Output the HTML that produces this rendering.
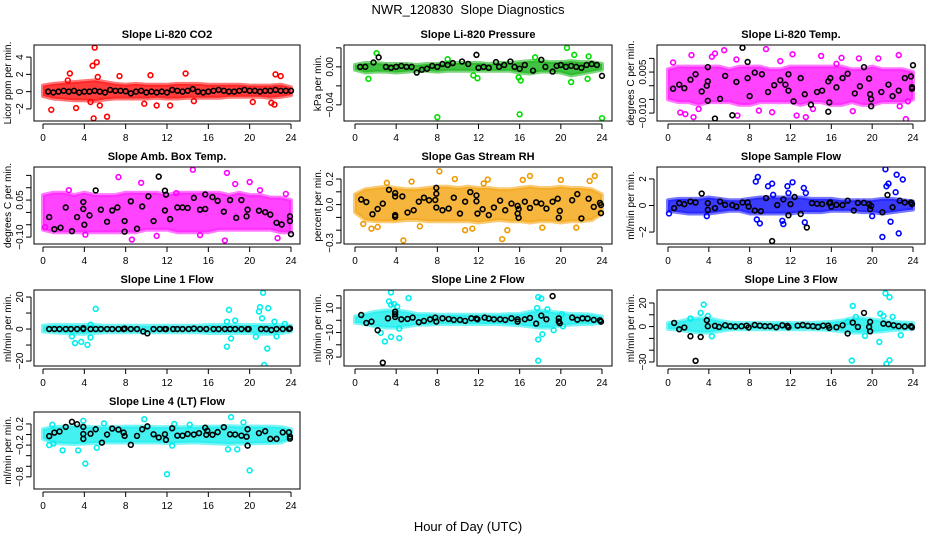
<!DOCTYPE html>
<html><head><meta charset="utf-8"><style>
html,body{margin:0;padding:0;background:#fff;}
svg{display:block;font-family:"Liberation Sans",Arial,sans-serif;}
</style></head><body>
<svg id="chart" width="936" height="540" viewBox="0 0 936 540" xmlns="http://www.w3.org/2000/svg">
<rect width="936" height="540" fill="#fff"/>
<text x="468" y="14" font-size="13" text-anchor="middle">NWR_120830&#160; Slope Diagnostics</text>
<text x="468" y="531" font-size="13" text-anchor="middle">Hour of Day (UTC)</text>
</svg>
<script>
const bandHours=[0,1,2,3,4,5,6,7,8,9,10,11,12,13,14,15,16,17,18,19,20,21,22,23,24];
const xTicks=[0,4,8,12,16,20,24];

// CO2
const co2Hi=[0.7,0.9,1.0,1.1,1.2,1.3,1.1,0.9,0.8,0.9,0.8,0.8,0.8,0.9,0.9,0.9,0.8,0.8,0.8,0.8,0.7,0.7,0.7,0.8,0.5];
const co2Lo=[-0.5,-0.8,-0.9,-1.0,-1.0,-1.1,-0.9,-0.8,-0.8,-0.8,-0.8,-0.7,-0.8,-0.8,-0.7,-0.7,-0.7,-0.7,-0.6,-0.6,-0.6,-0.6,-0.7,-0.6,-0.4];
const co2Out=[[0.8,-2.1],[2.6,2.1],[3.2,-1.9],[4.8,3.0],[4.9,-3.1],[5.0,5.1],[5.2,3.4],[5.3,1.7],[5.5,-1.6],[6.2,-2.9],[7.4,1.8],[9.8,-1.4],[10.4,1.9],[11.0,-1.6],[12.3,-1.6],[13.8,2.1],[14.6,-1.1],[20.3,-1.2],[22.1,-1.3],[22.4,-1.5],[22.5,2.0],[23.0,1.8],[4.6,-1.2],[2.4,1.3]];
const co2Blk=[[0.5,0],[1,-0.1],[1.5,0],[2,0.1],[2.5,0],[3,0.1],[3.5,-0.1],[4,0],[4.5,0],[5,0.1],[5.5,0],[6,-0.1],[6.5,0.2],[7,0.1],[7.5,0.1],[8,0.05],[8.5,-0.2],[9,0],[9.5,0.1],[10,-0.1],[10.5,0],[11,-0.1],[11.5,0],[12,-0.1],[12.5,0.2],[13,0.1],[13.5,0],[14,0.1],[14.5,0.3],[15,0],[15.5,-0.1],[16,0],[16.5,0.1],[17,0.2],[17.5,0.1],[18,0],[18.5,0],[19,0.1],[19.5,0.2],[20,0.1],[20.5,0.1],[21,0],[21.5,0.1],[22,0.1],[22.5,0.2],[23,0.1],[23.5,0.1],[24,0.1]];

// Pressure
const prsHi=[0.002,0.004,0.004,0.003,0.003,0.003,0.002,0.003,0.003,0.004,0.004,0.004,0.004,0.003,0.004,0.004,0.005,0.006,0.006,0.005,0.005,0.006,0.005,0.005,0.003];
const prsLo=[-0.003,-0.006,-0.005,-0.005,-0.006,-0.005,-0.004,-0.004,-0.005,-0.004,-0.004,-0.004,-0.004,-0.004,-0.004,-0.004,-0.006,-0.007,-0.005,-0.005,-0.006,-0.009,-0.007,-0.005,-0.003];
const prsOut=[[8,-0.053],[16,-0.05],[24,-0.054],[2.1,0.0144],[20.6,0.02],[21.3,0.0126],[1.3,-0.0126],[11.9,-0.012],[15.9,-0.011],[16.1,-0.0144],[22.6,-0.0126],[9.0,0.008],[21.0,-0.016],[17.5,0.01],[22.7,0.011],[11.5,-0.009]];
const prsBlk=[[0.5,0],[1,0],[1.8,0.0046],[2.3,0.01],[3,0],[3.5,-0.001],[4,0],[4.5,0.001],[5,0],[5.5,0],[6,-0.006],[6.5,-0.003],[7,-0.002],[7.5,0.001],[8,0],[8.5,0.003],[9,0.002],[9.5,0.004],[10.4,0.0056],[11,0.003],[11.8,0.0126],[12,-0.001],[12.5,0],[13,-0.001],[13.7,0.005],[14,0],[14.5,0.002],[15.1,0.0056],[15.5,0],[16,-0.002],[16.5,0.002],[17.3,-0.004],[18.1,0.0074],[18.5,0],[19.2,-0.005],[19.6,0.001],[20,0.002],[20.5,0],[21,0.001],[21.5,0],[22,-0.001],[22.5,0.002],[23,0.003],[23.5,0.002],[24,-0.0095]];

// Li-820 Temp
const tmpHi=[0.006,0.007,0.007,0.007,0.007,0.007,0.006,0.007,0.007,0.007,0.006,0.006,0.007,0.007,0.007,0.007,0.007,0.007,0.006,0.006,0.007,0.006,0.006,0.006,0.005];
const tmpLo=[-0.005,-0.006,-0.006,-0.007,-0.006,-0.006,-0.006,-0.007,-0.007,-0.006,-0.006,-0.006,-0.006,-0.007,-0.006,-0.006,-0.007,-0.007,-0.006,-0.007,-0.007,-0.006,-0.006,-0.006,-0.005];
const tmpOut=[[0.5,0.0085],[1.2,-0.0098],[1.7,-0.0104],[2.3,0.0112],[2.5,-0.0115],[4.3,0.0106],[4.6,0.0118],[5.5,0.013],[6.7,0.0096],[6.8,-0.0109],[8.9,-0.0091],[9.6,0.0134],[10.2,-0.0097],[12.2,0.0115],[12.6,-0.0109],[13.5,-0.0115],[15.0,0.0109],[16.5,0.008],[17.0,0.0102],[18.1,-0.0093],[18.7,0.01],[20.6,0.01],[22.6,0.0112],[22.7,-0.0075],[23.3,-0.0122],[23.5,-0.0057],[3.0,-0.0085],[11.0,0.009],[14.2,-0.0085]];
const tmpBlk=[[0.5,-0.0011],[1.1,0.0004],[1.6,-0.0009],[2.2,0.0022],[2.7,0.0042],[3.3,-0.0021],[3.9,0.0016],[3.9,0.0068],[3.9,-0.0055],[3.8,0],[4.6,-0.012],[5.1,-0.0048],[5.6,0.0036],[6.3,-0.0108],[6.7,0.0014],[7.3,0.0139],[7.8,0.0087],[7.8,0.0028],[8.0,-0.0038],[8.5,0.0048],[9.2,0.0042],[9.8,-0.0023],[10.4,0.0002],[11.0,0.002],[11.5,0.0004],[11.8,0.0042],[11.8,-0.0018],[12.3,-0.0057],[13.0,0.0028],[13.4,-0.0031],[14.0,-0.0069],[14.6,-0.0023],[15.1,-0.0018],[15.8,-0.0061],[15.7,-0.0095],[15.7,0.0016],[15.9,0.0028],[16.5,-0.0006],[17.1,0.0028],[17.6,0.0044],[18.3,-0.0028],[18.8,-0.0002],[19.2,0.0068],[19.7,0.0026],[19.8,-0.0031],[19.9,-0.0049],[19.9,-0.0075],[20.9,-0.0023],[21.6,0.0004],[22.0,-0.0038],[22.6,-0.0018],[23.2,0.0028],[23.8,0.0034],[23.9,-0.0005],[23.9,-0.0011],[24,0.0075]];

// Amb Box Temp
const ambHi=[0.07,0.08,0.08,0.07,0.08,0.07,0.07,0.07,0.08,0.08,0.08,0.08,0.07,0.08,0.08,0.08,0.08,0.08,0.07,0.08,0.07,0.07,0.06,0.06,0.05];
const ambLo=[-0.07,-0.08,-0.08,-0.08,-0.08,-0.08,-0.08,-0.08,-0.08,-0.08,-0.07,-0.07,-0.07,-0.08,-0.08,-0.08,-0.08,-0.07,-0.07,-0.07,-0.07,-0.07,-0.07,-0.08,-0.08];
const ambOut=[[7.3,0.143],[14.5,0.173],[17.8,0.16],[18.6,0.115],[20.0,0.123],[9.5,0.12],[8.6,-0.11],[17.6,-0.114],[22.7,-0.104],[4.1,-0.09],[12.9,0.078],[0.2,-0.06],[2.5,0.09],[11.0,-0.095],[15.2,-0.092],[21.0,0.09],[23.5,0.075]];
const ambBlk=[[0.6,-0.019],[1.1,-0.068],[1.7,-0.062],[2.2,0.02],[2.8,-0.076],[3.3,-0.019],[3.9,0.042],[3.9,0.014],[4.0,-0.05],[4.5,-0.012],[5.1,0.089],[5.6,0.011],[6.2,-0.038],[6.7,0.008],[7.2,0.02],[7.9,-0.035],[7.9,-0.078],[8.5,0.045],[9.1,-0.066],[9.6,0.024],[10.2,0.065],[10.7,-0.035],[11.2,0.145],[11.8,0.008],[11.8,0.088],[11.9,0.072],[12.3,-0.027],[13.0,0.02],[13.5,0.02],[14.0,0.018],[14.6,0.059],[15.2,0.011],[15.7,0.073],[15.7,0.014],[16.4,0.062],[16.9,0.047],[17.5,0.003],[18.1,0.05],[18.7,-0.022],[19.2,0.05],[19.7,-0.016],[19.8,0.011],[20.9,0.007],[21.5,0.001],[22.0,-0.009],[22.6,-0.042],[23.1,-0.049],[23.9,-0.016],[23.9,-0.035],[24,-0.088]];

// Gas Stream RH
const rhHi=[0.08,0.12,0.13,0.14,0.13,0.12,0.12,0.13,0.14,0.14,0.13,0.14,0.13,0.13,0.12,0.12,0.13,0.14,0.13,0.13,0.14,0.13,0.13,0.12,0.08];
const rhLo=[-0.06,-0.12,-0.13,-0.13,-0.13,-0.12,-0.12,-0.13,-0.13,-0.13,-0.13,-0.13,-0.14,-0.13,-0.12,-0.13,-0.13,-0.14,-0.13,-0.13,-0.14,-0.13,-0.13,-0.12,-0.07];
const rhOut=[[8.2,0.26],[4.7,-0.28],[14.3,-0.27],[17.0,0.224],[23.3,0.224],[9.7,0.2],[12.9,0.196],[3.1,0.17],[0.8,-0.152],[1.6,-0.188],[2.2,-0.175],[18.2,-0.18],[20,0.193],[22.8,0.185],[11.4,-0.188],[16.3,0.193],[12.5,0.165],[10.7,-0.2],[5.5,0.18],[6.3,-0.17],[14.8,-0.2],[21.5,-0.18]];
const rhBlk=[[0.6,0.04],[1.1,0.02],[1.7,-0.075],[2.2,-0.034],[2.7,0.008],[3.3,0.116],[3.9,0.064],[3.9,0.09],[3.9,-0.082],[3.9,-0.095],[4.6,0.064],[5.1,-0.062],[5.7,-0.044],[6.2,0.023],[6.7,0.054],[7.2,0.034],[7.8,0.036],[7.9,0.085],[7.9,0.131],[7.9,-0.023],[8.5,-0.044],[9.1,-0.031],[9.6,0.054],[10.2,-0.07],[10.7,0.023],[11.2,0.098],[11.8,0.072],[11.8,0.026],[11.9,-0.07],[12.4,-0.036],[13.0,-0.082],[13.5,-0.023],[14.1,0.031],[14.6,-0.044],[15.2,0.008],[15.8,-0.01],[15.8,-0.07],[15.9,-0.103],[15.9,-0.034],[16.5,0.023],[17.0,-0.026],[17.6,0.018],[18.1,0.008],[18.6,-0.031],[19.2,0.023],[19.7,0.046],[19.8,-0.103],[19.9,-0.049],[21.1,0.034],[21.6,0.082],[22.0,-0.108],[22.7,0.046],[23.2,-0.018],[23.8,0.013],[23.9,-0.067],[23.9,-0.003]];

// Sample Flow
const sfHi=[0.4,0.5,0.5,0.5,0.6,0.5,0.4,0.4,0.5,0.6,0.6,0.6,0.6,0.6,0.5,0.5,0.5,0.4,0.4,0.4,0.4,0.5,0.5,0.4,0.3];
const sfLo=[-0.4,-0.5,-0.6,-0.6,-0.6,-0.5,-0.4,-0.4,-0.6,-0.6,-0.6,-0.6,-0.6,-0.5,-0.5,-0.5,-0.4,-0.4,-0.4,-0.5,-0.5,-0.6,-0.5,-0.4,-0.3];
const sfOut=[[8.6,1.8],[8.8,2.15],[8.7,-1.05],[9.0,-1.35],[9.8,1.45],[10.2,1.65],[10.3,0.8],[11.2,-1.15],[11.3,-1.4],[11.7,1.45],[12.2,1.75],[11.8,0.94],[13.3,1.32],[13.4,-1.27],[13.5,0.94],[21.3,2.73],[21.4,1.45],[21.6,1.65],[21.8,-1.22],[22.4,2.32],[22.6,-2.1],[21.0,-2.37],[23.0,1.96],[22.3,1.0],[0.1,-0.6],[3.8,-0.8],[20.0,-0.8]];
const sfBlk=[[0.6,-0.2],[1.1,0.18],[1.6,0.1],[2.2,0.3],[2.7,0.23],[3.3,0.9],[3.9,-0.33],[3.9,0.18],[4.6,-0.2],[5.1,0.3],[5.6,0.05],[6.3,0.03],[6.7,-0.08],[7.3,0.23],[7.8,0.23],[7.9,-0.08],[8.5,-0.38],[9.1,-0.43],[9.6,0.56],[10.2,-2.68],[10.7,0.03],[11.3,0.46],[11.8,-0.74],[12.0,0.1],[12.4,0.64],[13.0,-0.64],[13.6,-1.66],[14.1,0.18],[14.6,0.13],[15.1,0.1],[15.8,0.18],[15.9,0.23],[16.0,-0.08],[16.5,0.05],[17.1,0.03],[17.6,0.36],[18.2,-0.38],[18.6,0.2],[19.2,0.2],[19.7,0.1],[19.8,-0.28],[19.9,-0.03],[21.0,-0.51],[21.5,0.79],[22.0,-0.13],[22.7,0.36],[23.2,0.23],[23.8,0.23],[23.9,0.1]];

// Line 1 Flow
const l1Hi=[2,2.5,2.5,2.5,2.5,2.5,2,2,2,2,2,2,2,2,2,2,2.5,2.5,2.5,2.5,2.5,2.5,2.5,2.5,2];
const l1Lo=[-1.5,-2,-2.5,-3,-3,-2.5,-2,-2,-2,-2,-2,-2,-2,-2,-2,-2,-2.5,-2.5,-2.5,-2.5,-2.5,-3,-3,-2.5,-1.5];
const l1Out=[[5.1,12.6],[17.8,-11],[18.0,12],[18.6,5.3],[17.8,4.6],[21.3,22.7],[21.4,-22.5],[21.8,13],[21.7,-12.2],[21.0,13.7],[20.9,10.9],[21.2,6.7],[22.4,4.6],[22.6,-4.6],[20.6,-4.8],[3.7,-8],[3.1,-8.8],[4.3,-9.9],[4.6,-5.3],[2.8,-4.6],[18.2,-5.9],[4.6,2.7],[23.4,3.2]];
const l1Blk=[[0.6,0],[1.1,0],[1.6,0],[2.2,0],[2.7,0],[3.3,0],[3.9,0],[3.9,0.5],[4.6,0],[5.1,0],[5.6,0],[6.2,0],[6.7,0],[7.3,0],[7.8,0],[7.9,0.3],[8.5,0],[9.1,0],[9.7,-1.5],[10.1,-2.7],[10.7,0],[11.3,0],[11.8,0],[11.9,0],[12.6,0],[13.0,0],[13.5,0],[14.1,0],[14.6,0.3],[15.2,0],[15.8,0],[16.5,0],[17.0,0],[17.6,0],[18.1,0],[18.6,0],[19.2,0],[19.8,0],[19.9,0],[21.1,0],[21.6,0],[22.1,-0.6],[22.6,0],[23.2,0],[23.8,0],[23.9,0.3]];

// Line 2 Flow
const l2Hi=[3,5,7,8,8,7,5,5,4.5,4.5,4.5,4.5,4.5,4.5,4.5,5,5,7,8,7,6,5,5,4.5,3];
const l2Lo=[-2,-3,-5,-6,-6,-5,-3.5,-3.5,-3,-3,-3,-3,-3,-3,-3,-3.5,-4,-5,-6,-6,-4,-3.5,-3,-3,-2];
const l2Out=[[3.5,22.7],[3.3,15.4],[3.5,12.7],[3.8,13.2],[4.1,11.1],[5.2,18.1],[3.5,-13.5],[2.9,-17.3],[4.3,-14.6],[2.5,-10.3],[4.3,-6.8],[17.8,18.9],[18.1,17.8],[17.7,10],[17.8,-15.7],[18.2,-11.4],[17.8,-33],[18.7,8.9],[19.3,-8.1],[20.1,4.9],[20.2,-4.9]];
const l2Blk=[[0.6,4.3],[1.1,-2.2],[1.6,-1.1],[2.2,-8.1],[2.7,-34.6],[3.2,1.6],[3.9,4.9],[3.9,7],[3.9,2.7],[4.5,0.8],[5.1,1.1],[5.6,2.2],[6.2,-1.6],[6.7,-0.5],[7.3,0.8],[7.8,2.2],[7.9,-1.1],[8.5,1.6],[9.1,1.1],[9.6,0.3],[10.2,0.3],[10.7,-0.5],[11.3,1.6],[11.8,1.4],[11.9,0.8],[12.6,2.2],[13.0,1.4],[13.5,0.8],[14.1,0.8],[14.6,0.3],[15.2,1.6],[15.8,0.8],[15.8,-1.1],[16.5,0.8],[17.0,1.9],[17.6,-2.7],[18.1,3.8],[18.6,0.8],[19.2,19.7],[19.8,-1.1],[19.8,1.6],[19.9,-2.4],[21.1,2.2],[21.6,0.5],[22.1,1.6],[22.6,1.4],[23.2,0.3],[23.8,0],[23.9,-1.1]];

// Line 3 Flow
const l3Hi=[3,4,6,7,7,5,3.5,3,3,3,3,3,3,3,3,3.5,4,5,7,7,6,5,4,3.5,3];
const l3Lo=[-2,-2.5,-4,-5,-5,-4,-2.5,-2.3,-2.3,-2.3,-2.3,-2.3,-2.3,-2.3,-2.3,-2.5,-3,-4,-5,-5,-4.5,-4,-3,-2.5,-2];
const l3Out=[[3.5,18.6],[3.2,11.6],[2.2,6.8],[4.3,-8.2],[3.9,9],[18.1,17.5],[18.0,-28.8],[18.4,8.2],[21.3,28.2],[21.7,24.9],[21.4,-31.6],[21.7,-28.5],[20.7,-13],[20.8,11],[21.1,9],[22.0,8.2],[22.8,-7.3],[19.3,-7.9],[17.6,4.0]];
const l3Blk=[[0.6,3.1],[1.1,-2.3],[1.6,-0.8],[2.2,-8.2],[2.7,-29],[3.2,-8.8],[3.8,5.4],[3.9,0.3],[4.6,0.6],[5.0,-0.3],[5.6,1.1],[6.1,0.3],[6.6,0],[7.2,0.3],[7.7,0.8],[7.9,-0.8],[8.5,1.4],[9.0,0.8],[9.5,0.3],[10.0,0.3],[10.6,-0.6],[11.2,1.1],[11.7,0.6],[11.8,-0.6],[12.7,0.8],[13.2,1.4],[13.7,0.6],[14.2,0.3],[14.7,-0.3],[15.2,0.8],[15.7,0.8],[15.8,-1.1],[16.5,-0.6],[17.1,1.1],[17.6,-5.9],[18.1,3.4],[18.6,-0.3],[19.2,11.6],[19.7,-0.3],[19.8,4],[19.8,-4],[21.1,2.5],[21.6,2],[22.1,1.1],[22.6,0.3],[23.2,0],[23.8,0.3],[23.9,-0.6]];

// Line 4 (LT) Flow
const l4Hi=[0.1,0.14,0.15,0.16,0.15,0.14,0.14,0.14,0.15,0.15,0.15,0.14,0.14,0.14,0.14,0.14,0.15,0.15,0.16,0.15,0.15,0.15,0.15,0.14,0.1];
const l4Lo=[-0.08,-0.16,-0.17,-0.18,-0.17,-0.16,-0.15,-0.15,-0.15,-0.15,-0.15,-0.15,-0.16,-0.16,-0.15,-0.15,-0.16,-0.17,-0.18,-0.17,-0.17,-0.16,-0.16,-0.15,-0.08];
const l4Out=[[3.9,0.26],[9.8,0.29],[18.2,0.33],[1.9,-0.3],[3.4,-0.3],[4.1,-0.55],[12.0,-0.75],[20.0,-0.68],[17.9,-0.28],[18.8,-0.28],[12.5,-0.21],[0.6,-0.2],[0.9,0.185],[5.2,-0.25],[5.9,0.21],[14.2,0.185],[19.4,0.23],[12.7,0.2],[1.0,-0.17]];
const l4Blk=[[0.6,-0.03],[1.1,0.036],[1.6,0.057],[2.2,0.144],[2.8,0.24],[3.3,0.195],[3.9,0.144],[3.9,0.01],[3.9,-0.082],[4.6,0.015],[5.1,0.1],[5.7,-0.154],[6.2,0],[6.7,0.113],[7.3,0.093],[7.8,0.036],[7.9,-0.026],[8.5,-0.195],[9.1,-0.026],[9.6,0.1],[10.1,0.154],[10.7,0.005],[11.2,-0.057],[11.8,0.005],[11.9,-0.1],[12.5,0.118],[13.0,-0.021],[13.5,-0.021],[14.0,0.01],[14.6,0],[15.1,0.026],[15.7,0.128],[15.8,-0.005],[15.9,0.072],[16.4,-0.005],[16.9,0.046],[17.5,0.139],[18.1,0.005],[18.6,0],[19.2,-0.021],[19.7,-0.041],[19.8,0.1],[19.8,-0.21],[20.9,0.026],[21.5,0.062],[22.0,-0.082],[22.6,-0.082],[23.2,0.041],[23.8,0.041],[23.9,-0.077],[23.9,-0.041]];

// Axis tick values and visible labels
const co2YTicks=[-2,0,2,4];        const co2YLabels=["−2","0","2","4"];
const prsYTicks=[-0.04,-0.02,0,0.02]; const prsYLabels=["−0.04","","0.00",""];
const tmpYTicks=[-0.01,-0.005,0,0.005,0.01]; const tmpYLabels=["−0.010","","","0.005",""];
const ambYTicks=[-0.1,-0.05,0,0.05,0.1,0.15]; const ambYLabels=["−0.10","","","0.05","",""];
const rhYTicks=[-0.3,-0.2,-0.1,0,0.1,0.2]; const rhYLabels=["−0.3","","","0.0","","0.2"];
const sfYTicks=[-2,0,2];           const sfYLabels=["−2","0","2"];
const l1YTicks=[-20,-10,0,10,20];  const l1YLabels=["−20","","0","","20"];
const l2YTicks=[-30,-20,-10,0,10,20]; const l2YLabels=["−30","","−10","","10",""];
const l3YTicks=[-30,-20,-10,0,10,20]; const l3YLabels=["−30","","","0","","20"];
const l4YTicks=[-0.8,-0.6,-0.4,-0.2,0,0.2]; const l4YLabels=["−0.8","","","−0.2","","0.2"];

const NS="http://www.w3.org/2000/svg";
const svg=document.getElementById('chart');
function mk(tag,attrs,parent){const e=document.createElementNS(NS,tag);for(const k in attrs)e.setAttribute(k,attrs[k]);(parent||svg).appendChild(e);return e;}

const cols=[{L:34,R:300,x0:43,x24:291},{L:344,R:612,x0:355,x24:602},{L:657,R:925,x0:668,x24:913}];
const rows=[{T:45,B:121},{T:167,B:244},{T:290,B:366},{T:412,B:489}];

const panels=[
 {name:'co2',title:'Slope Li-820 CO2',ylab:'Licor ppm per min.',c:0,r:0,ymin:-3.4,ymax:5.4,color:'#ff0000',band:'#ff1a1a',hi:co2Hi,lo:co2Lo,out:co2Out,blk:co2Blk,yt:co2YTicks,yl:co2YLabels},
 {name:'pressure',title:'Slope Li-820 Pressure',ylab:'kPa per min.',c:1,r:0,ymin:-0.057,ymax:0.023,color:'#00dd00',band:'#22b822',hi:prsHi,lo:prsLo,out:prsOut,blk:prsBlk,yt:prsYTicks,yl:prsYLabels},
 {name:'li820-temp',title:'Slope Li-820 Temp.',ylab:'degrees C per min.',c:2,r:0,ymin:-0.0129,ymax:0.0149,color:'#ff00ff',band:'#ff22ff',hi:tmpHi,lo:tmpLo,out:tmpOut,blk:tmpBlk,yt:tmpYTicks,yl:tmpYLabels},
 {name:'amb-box-temp',title:'Slope Amb. Box Temp.',ylab:'degrees C per min.',c:0,r:1,ymin:-0.128,ymax:0.184,color:'#ff00ff',band:'#ff22ff',hi:ambHi,lo:ambLo,out:ambOut,blk:ambBlk,yt:ambYTicks,yl:ambYLabels},
 {name:'gas-stream-rh',title:'Slope Gas Stream RH',ylab:'percent per min.',c:1,r:1,ymin:-0.308,ymax:0.294,color:'#ee9900',band:'#f5a81a',hi:rhHi,lo:rhLo,out:rhOut,blk:rhBlk,yt:rhYTicks,yl:rhYLabels},
 {name:'sample-flow',title:'Slope Sample Flow',ylab:'ml/min per min.',c:2,r:1,ymin:-2.9,ymax:2.9,color:'#0000ff',band:'#1a1aff',hi:sfHi,lo:sfLo,out:sfOut,blk:sfBlk,yt:sfYTicks,yl:sfYLabels},
 {name:'line1-flow',title:'Slope Line 1 Flow',ylab:'ml/min per min.',c:0,r:2,ymin:-23.1,ymax:24.4,color:'#00eeee',band:'#22eeee',hi:l1Hi,lo:l1Lo,out:l1Out,blk:l1Blk,yt:l1YTicks,yl:l1YLabels},
 {name:'line2-flow',title:'Slope Line 2 Flow',ylab:'ml/min per min.',c:1,r:2,ymin:-37.3,ymax:24.7,color:'#00eeee',band:'#22eeee',hi:l2Hi,lo:l2Lo,out:l2Out,blk:l2Blk,yt:l2YTicks,yl:l2YLabels},
 {name:'line3-flow',title:'Slope Line 3 Flow',ylab:'ml/min per min.',c:2,r:2,ymin:-33.4,ymax:31,color:'#00eeee',band:'#22eeee',hi:l3Hi,lo:l3Lo,out:l3Out,blk:l3Blk,yt:l3YTicks,yl:l3YLabels},
 {name:'line4-flow',title:'Slope Line 4 (LT) Flow',ylab:'ml/min per min.',c:0,r:3,ymin:-1.03,ymax:0.426,color:'#00eeee',band:'#22eeee',hi:l4Hi,lo:l4Lo,out:l4Out,blk:l4Blk,yt:l4YTicks,yl:l4YLabels}
];

panels.forEach(p=>{
  const C=cols[p.c], Rw=rows[p.r];
  const xs=h=>C.x0+(C.x24-C.x0)*h/24;
  const ys=v=>Rw.B-(Rw.B-Rw.T)*(v-p.ymin)/(p.ymax-p.ymin);
  const g=mk('g',{});
  
  
  const cp=mk('clipPath',{id:'clip-'+p.name},g);
  mk('rect',{x:C.L,y:Rw.T,width:C.R-C.L,height:Rw.B-Rw.T},cp);
  const plot=mk('g',{'clip-path':'url(#clip-'+p.name+')'},g);
  let pts=[];
  bandHours.forEach((h,i)=>pts.push(xs(h).toFixed(1)+','+ys(p.hi[i]).toFixed(1)));
  for(let i=bandHours.length-1;i>=0;i--)pts.push(xs(bandHours[i]).toFixed(1)+','+ys(p.lo[i]).toFixed(1));
  const band=mk('polygon',{points:pts.join(' '),fill:p.band,'fill-opacity':0.85,stroke:p.band,'stroke-opacity':0.6,'stroke-width':4,'stroke-linejoin':'round'},plot);
  
  
  p.out.forEach(d=>{
    const c=mk('circle',{cx:xs(d[0]),cy:ys(d[1]),r:2.4,fill:'none',stroke:p.color,'stroke-width':1.6},plot);
    
    
  });
  p.blk.forEach(d=>{
    const c=mk('circle',{cx:xs(d[0]),cy:ys(d[1]),r:2.4,fill:'none',stroke:'#000','stroke-width':1.6},plot);
    
    
  });
  const box=mk('rect',{x:C.L,y:Rw.T,width:C.R-C.L,height:Rw.B-Rw.T,fill:'none',stroke:'#000','stroke-width':1},g);
  
  
  const t=mk('text',{x:(C.L+C.R)/2,y:Rw.T-7,'font-size':11,'font-weight':'bold','text-anchor':'middle'},g);
  t.textContent=p.title;
  
  
  const ax=mk('line',{x1:xs(0),x2:xs(24),y1:Rw.B+3,y2:Rw.B+3,stroke:'#000','stroke-width':1},g);
  
  
  xTicks.forEach(h=>{
    mk('line',{x1:xs(h),x2:xs(h),y1:Rw.B+3,y2:Rw.B+8,stroke:'#000','stroke-width':1},g);
    const tl=mk('text',{x:xs(h),y:Rw.B+20,'font-size':10,'text-anchor':'middle'},g);
    tl.textContent=h;
    
    
  });
  const yA=mk('line',{x1:C.L-3,x2:C.L-3,y1:ys(p.yt[0]),y2:ys(p.yt[p.yt.length-1]),stroke:'#000','stroke-width':1},g);
  
  
  p.yt.forEach((v,i)=>{
    const y=ys(v);
    mk('line',{x1:C.L-8,x2:C.L-3,y1:y,y2:y,stroke:'#000','stroke-width':1},g);
    if(p.yl[i]){
      const tl=mk('text',{x:C.L-11,y:y,'font-size':10,'text-anchor':'middle',transform:'rotate(-90 '+(C.L-11)+' '+y+')'},g);
      tl.textContent=p.yl[i];
      
      
    }
  });
  const cy=(Rw.T+Rw.B)/2, lx=C.L-23;
  const yl=mk('text',{x:lx,y:cy,'font-size':10,'text-anchor':'middle',transform:'rotate(-90 '+lx+' '+cy+')'},g);
  yl.textContent=p.ylab;
  
  
});
</script>
</body></html>
